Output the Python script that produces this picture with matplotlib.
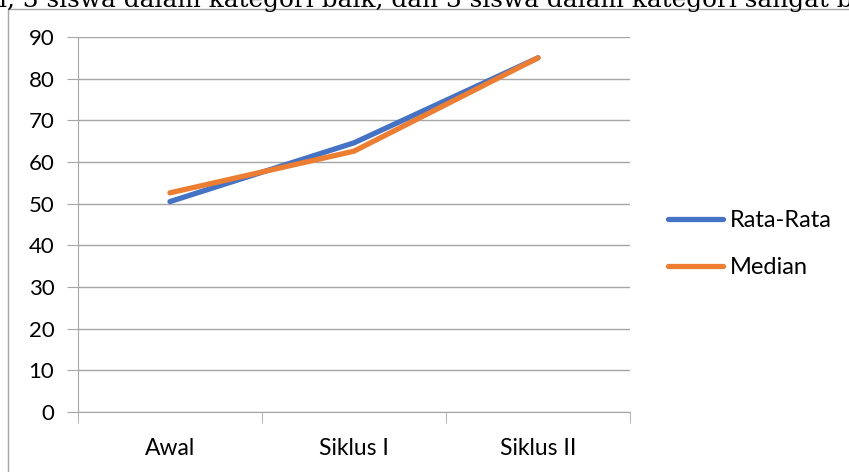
import matplotlib
matplotlib.use("Agg")
import matplotlib.pyplot as plt
from matplotlib.patches import Rectangle
from matplotlib.lines import Line2D

categories = ["Awal", "Siklus I", "Siklus II"]
rata_rata = [50.5, 64.6, 85.0]
median = [52.6, 62.6, 85.0]
series_names = ["Rata-Rata", "Median"]
yticks = [0, 10, 20, 30, 40, 50, 60, 70, 80, 90]
header_text = "i, 3 siswa dalam kategori baik, dan 3 siswa dalam kategori sangat baik."

W, H = 849, 472
fig = plt.figure(figsize=(W / 100, H / 100), dpi=100)
fig.patch.set_facecolor("white")

# outer chart frame
fig.add_artist(Rectangle((8 / W, -0.05), 1.1, 1 - 8.5 / H + 0.05, transform=fig.transFigure,
                         fill=False, edgecolor="#a6a6a6", linewidth=1.0))

# header text from surrounding document (cut at top)
fig.text(-1 / W, 1 - 7 / H, header_text, fontsize=17.8, family="DejaVu Serif",
         color="black", va="baseline", ha="left")

ax = fig.add_axes([78 / W, 1 - 412 / H, (630 - 78) / W, (412 - 37) / H])
x = range(len(categories))
blue = "#4472c4"
orange = "#ed7d31"
ax.plot(x, rata_rata, color=blue, linewidth=3.8, solid_capstyle="round", zorder=3)
ax.plot(x, median, color=orange, linewidth=3.8, solid_capstyle="round", zorder=4)

ax.set_xlim(-0.5, len(categories) - 0.5)
ax.set_ylim(0, 90)
ax.set_yticks(yticks)
ax.set_xticks(list(x))
ax.set_xticklabels(categories)
ax.set_xticks([-0.5, 0.5, 1.5, 2.5], minor=True)
ax.grid(axis="y", color="#a6a6a6", linewidth=1.0)
ax.set_axisbelow(True)
for s in ["top", "right"]:
    ax.spines[s].set_visible(False)
ax.spines["left"].set_color("#a6a6a6")
ax.spines["bottom"].set_color("#a6a6a6")
ax.tick_params(axis="y", which="major", length=8, color="#a6a6a6", labelsize=16, pad=9)
ax.tick_params(axis="x", which="major", length=0, labelsize=16.5, pad=19)
ax.tick_params(axis="x", which="minor", length=8, color="#a6a6a6")
for lab in ax.get_xticklabels() + ax.get_yticklabels():
    lab.set_family("Lato")
    lab.set_color("black")

handles = [Line2D([0], [0], color=blue, linewidth=3.8, solid_capstyle="round"),
           Line2D([0], [0], color=orange, linewidth=3.8, solid_capstyle="round")]
leg = fig.legend(handles, series_names, loc="center left", bbox_to_anchor=(668 / W, 1 - 244 / H),
                 frameon=False, prop={"family": "Lato", "size": 17},
                 handlelength=2.35, handletextpad=0.25, labelspacing=1.1, borderaxespad=0,
                 borderpad=0)

fig.savefig("out.png", dpi=100, facecolor="white")
